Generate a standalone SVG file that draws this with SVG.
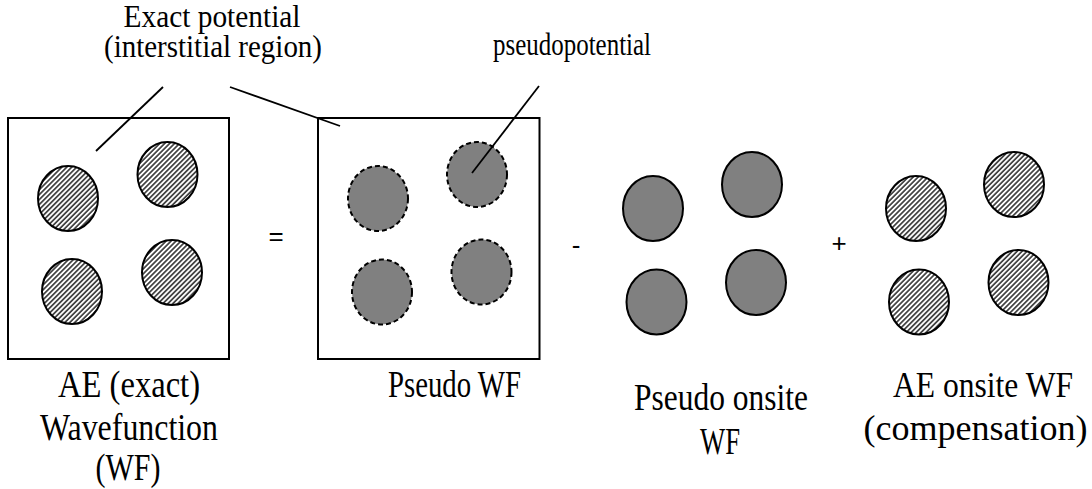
<svg xmlns="http://www.w3.org/2000/svg" width="1092" height="489" viewBox="0 0 1092 489">
  <defs>
    <!-- diagonal hatching for all-electron spheres -->
    <pattern id="hatch" patternUnits="userSpaceOnUse" width="3.5" height="3.5" patternTransform="rotate(45)">
      <rect width="3.5" height="3.5" fill="#ffffff"/>
      <line x1="0.9" y1="0" x2="0.9" y2="3.5" stroke="#333333" stroke-width="1.6"/>
    </pattern>
  </defs>
  <style>
    .box { fill: #ffffff; stroke: #000000; stroke-width: 2; }
    .ae { fill: url(#hatch); stroke: #000000; stroke-width: 2; }
    .ps { fill: #808080; stroke: #000000; stroke-width: 2; }
    .psd { fill: #808080; stroke: #000000; stroke-width: 2; stroke-dasharray: 5 3; }
    .lead { stroke: #000000; stroke-width: 1.8; fill: none; }
    .lbl { font-family: "Liberation Serif", "Times New Roman", serif; fill: #000000; text-anchor: middle; }
    .top { font-size: 32px; }
    .bot { font-size: 37px; }
    .bot-s { font-size: 35px; }
    .op { font-family: "Liberation Sans", Arial, sans-serif; font-size: 26px; fill: #000000; text-anchor: middle; }
  </style>

  <rect width="1092" height="489" fill="#ffffff"/>

  <!-- all-electron wavefunction -->
  <g id="ae-wf">
    <rect class="box" x="8" y="118" width="221" height="241"/>
    <ellipse class="ae" cx="68" cy="198.5" rx="30" ry="32.5"/>
    <ellipse class="ae" cx="167.5" cy="174.5" rx="30" ry="32.5"/>
    <ellipse class="ae" cx="72" cy="291.5" rx="30" ry="32.5"/>
    <ellipse class="ae" cx="172" cy="272.5" rx="30" ry="32.5"/>
    <text class="lbl bot" x="129" y="397" textLength="142" lengthAdjust="spacingAndGlyphs">AE (exact)</text>
    <text class="lbl bot" x="129" y="440" textLength="178" lengthAdjust="spacingAndGlyphs">Wavefunction</text>
    <text class="lbl bot" x="128" y="480" textLength="65" lengthAdjust="spacingAndGlyphs">(WF)</text>
  </g>

  <g id="op-eq"><text class="op" x="276" y="245">=</text></g>

  <!-- pseudo wavefunction -->
  <g id="pseudo-wf">
    <rect class="box" x="318" y="118" width="221.5" height="241"/>
    <ellipse class="psd" cx="378" cy="198.5" rx="30" ry="32.5"/>
    <ellipse class="psd" cx="477" cy="174.5" rx="30" ry="32.5"/>
    <ellipse class="psd" cx="382" cy="292" rx="30" ry="32.5"/>
    <ellipse class="psd" cx="481.5" cy="272" rx="30" ry="32.5"/>
    <text class="lbl bot" x="454.5" y="397" textLength="133" lengthAdjust="spacingAndGlyphs">Pseudo WF</text>
  </g>

  <g id="op-minus"><text class="op" x="576" y="254">-</text></g>

  <!-- pseudo onsite wavefunction -->
  <g id="pseudo-onsite">
    <ellipse class="ps" cx="653" cy="208.5" rx="30" ry="32.5"/>
    <ellipse class="ps" cx="752" cy="184.5" rx="30" ry="32.5"/>
    <ellipse class="ps" cx="656.5" cy="302" rx="30" ry="32.5"/>
    <ellipse class="ps" cx="756" cy="282.5" rx="30" ry="32.5"/>
    <text class="lbl bot" x="721" y="410" textLength="174" lengthAdjust="spacingAndGlyphs">Pseudo onsite</text>
    <text class="lbl bot" x="720" y="454" textLength="40" lengthAdjust="spacingAndGlyphs">WF</text>
  </g>

  <g id="op-plus"><text class="op" x="839" y="252">+</text></g>

  <!-- all-electron onsite wavefunction -->
  <g id="ae-onsite">
    <ellipse class="ae" cx="916" cy="208.5" rx="30" ry="32.5"/>
    <ellipse class="ae" cx="1014" cy="184.5" rx="30" ry="32.5"/>
    <ellipse class="ae" cx="919" cy="302" rx="30" ry="32.5"/>
    <ellipse class="ae" cx="1018.5" cy="282.5" rx="30" ry="32.5"/>
    <text class="lbl bot-s" x="983" y="397" textLength="180" lengthAdjust="spacingAndGlyphs">AE onsite WF</text>
    <text class="lbl bot-s" x="975.5" y="440" textLength="224" lengthAdjust="spacingAndGlyphs">(compensation)</text>
  </g>

  <!-- callout labels -->
  <g id="lbl-exact">
    <text class="lbl top" x="212" y="27" textLength="177" lengthAdjust="spacingAndGlyphs">Exact potential</text>
    <text class="lbl top" x="213" y="57" textLength="218" lengthAdjust="spacingAndGlyphs">(interstitial region)</text>
  </g>
  <g id="lbl-pseudo">
    <text class="lbl top" x="572" y="55" textLength="158" lengthAdjust="spacingAndGlyphs">pseudopotential</text>
  </g>

  <!-- leader lines -->
  <g id="connectors">
    <line class="lead" x1="163" y1="87" x2="96" y2="151"/>
    <line class="lead" x1="230" y1="87" x2="340" y2="126"/>
    <line class="lead" x1="539" y1="86" x2="472" y2="173"/>
  </g>
</svg>
